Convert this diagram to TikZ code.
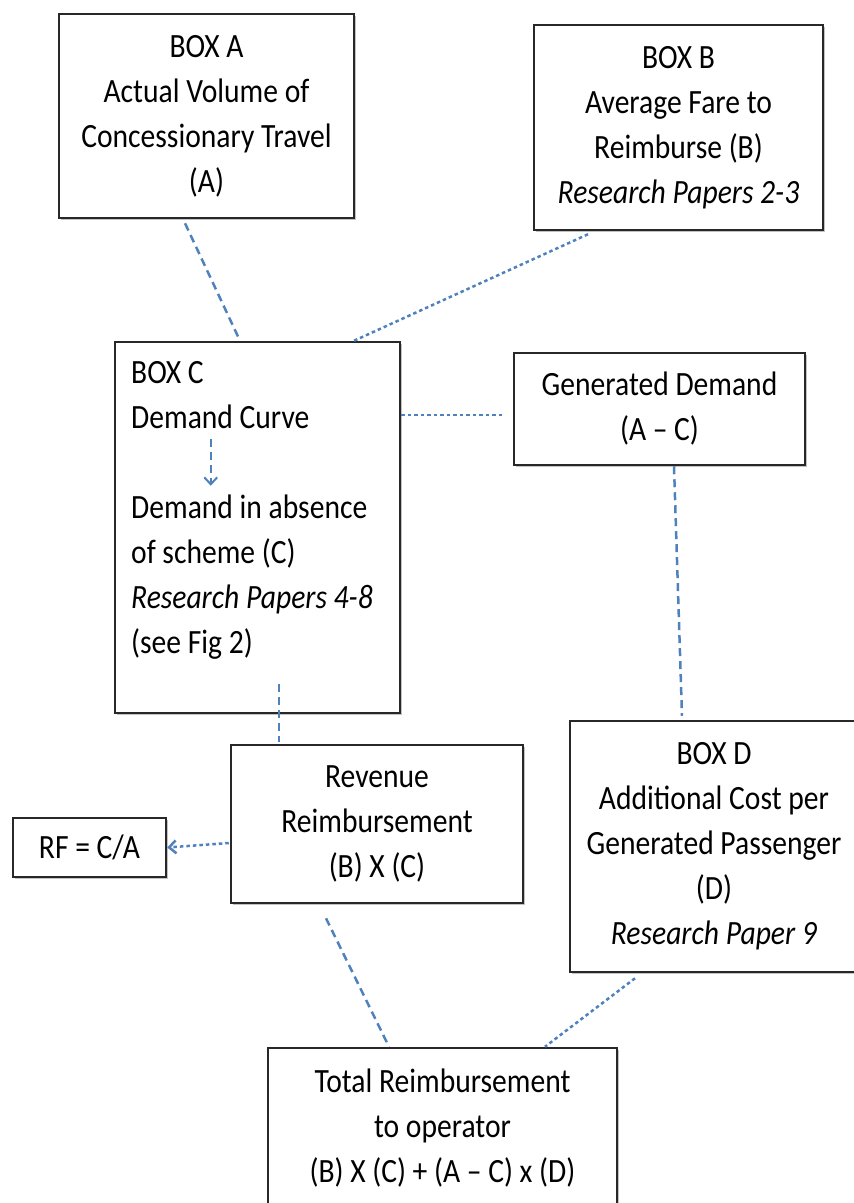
\documentclass[tikz,border=0pt]{standalone}
\usepackage{fontspec}
\setmainfont[FakeStretch=0.87]{Carlito}
\usetikzlibrary{arrows.meta, positioning, shadows, calc}
\definecolor{linkblue}{RGB}{79, 129, 189}
\definecolor{boxedge}{RGB}{40, 40, 40}
\tikzset{
  infobox/.style={draw=boxedge, line width=2.5pt, fill=white, align=center, inner sep=0pt,
    drop shadow={shadow xshift=1.5pt, shadow yshift=-1.5pt, fill=black!40, opacity=0.6}},
  boxtext/.style={align=left, inner sep=0pt},
  dashlink/.style={draw=linkblue, line width=2.5pt, dash pattern=on 8pt off 5pt},
  dotlink/.style={draw=linkblue, line width=2.5pt, dash pattern=on 3.5pt off 3pt},
  barb/.style={-{Straight Barb[length=7pt, width=13pt]}}
}

\begin{document}
\begin{tikzpicture}[x=1pt, y=-1pt, font=\fontsize{34}{45}\selectfont]
  \useasboundingbox (0,0) rectangle (854,1203);
  % boxes
  \node[infobox, minimum width=295pt, minimum height=204pt] (boxA) at (206.5,116)
    {BOX A\\Actual Volume of\\Concessionary Travel\\(A)};
  \node[infobox, minimum width=289pt, minimum height=205pt] (boxB) at (678.5,127.5)
    {BOX B\\Average Fare to\\Reimburse (B)\\\textit{Research Papers 2-3}};
  \node[infobox, minimum width=285pt, minimum height=371pt] (boxC) at (257.5,527.5) {};
  % base of a multi-line node = baseline of its last line
  \node[boxtext, anchor=base west] (curveTop) at (131,428) {BOX C\\Demand Curve};
  \node[boxtext, anchor=base west] (curveBot) at (131,653)
    {Demand in absence\\of scheme (C)\\\textit{Research Papers 4-8}\\(see Fig 2)};
  \node[infobox, minimum width=291pt, minimum height=112pt] (boxGD) at (659.5,409)
    {Generated Demand\\(A – C)};
  \node[infobox, minimum width=288pt, minimum height=251pt] (boxD) at (714,846.5)
    {BOX D\\Additional Cost per\\Generated Passenger\\(D)\\\textit{Research Paper 9}};
  \node[infobox, minimum width=292pt, minimum height=158pt] (boxRev) at (377,824)
    {Revenue\\Reimbursement\\(B) X (C)};
  \node[infobox, minimum width=153pt, minimum height=59pt] (boxRF) at (89.5,847.5)
    {RF = C/A};
  \node[infobox, minimum width=349pt, minimum height=160pt] (boxTotal) at (442.5,1128)
    {Total Reimbursement\\to operator\\(B) X (C) + (A – C) x (D)};

  % links
  \draw[dashlink] ($(boxA.south)+(-21.5,4)$) -- ($(boxC.north)+(-17.5,0)$);
  \draw[dotlink] ($(boxB.south)+(-90.5,3)$) -- ($(boxC.north)+(96.5,0)$);
  \draw[dotlink] ($(boxC.east |- boxGD.west)+(0,6)$) -- ($(boxGD.west)+(-11,6)$);
  \draw[dashlink, line width=2pt, barb] ($(boxC.north west)+(97,98)$) -- ($(boxC.north west)+(97,145)$);
  \draw[dashlink] ($(boxGD.south)+(14.5,0)$) -- ($(boxD.north)+(-32,-4)$);
  \draw[dashlink] ($(boxC.south)+(21.5,-30)$) -- ($(boxRev.north)+(-98,-2)$);
  \draw[dotlink, barb] ($(boxRev.west)+(-1,19)$) -- (boxRF.east);
  \draw[dashlink] ($(boxRev.south)+(-51,14)$) -- ($(boxTotal.north)+(-53.5,0)$);
  \draw[dotlink] ($(boxD.south)+(-79,5)$) -- ($(boxTotal.north)+(102.5,0)$);
\end{tikzpicture}
\end{document}
